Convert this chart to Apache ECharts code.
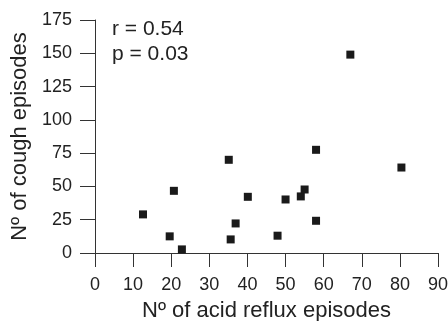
<!DOCTYPE html>
<html>
<head>
<meta charset="utf-8">
<script src="https://cdn.jsdelivr.net/npm/echarts@6/dist/echarts.min.js"></script>
<style>
  html, body { margin: 0; padding: 0; background: #fff; }
  #chart { width: 448px; height: 321px; }
</style>
</head>
<body>
<div id="chart"></div>
<script>
// acid reflux episodes (x) vs cough episodes (y), one pair per patient
const refluxEpisodes = [12.6, 19.6, 20.7, 22.8, 35.1, 35.6, 36.9, 40.1, 47.9, 50.0, 54.0, 55.0, 58.0, 58.0, 67.0, 80.4];
const coughEpisodes  = [29, 12.5, 46.7, 2.7, 70, 10.2, 22.2, 42.2, 13, 40.2, 42.5, 47.7, 77.5, 24.2, 149, 64.2];
const xTicks = { min: 0, max: 90, interval: 10 };
const yTicks = { min: 0, max: 175, interval: 25 };
const stats = ['r = 0.54', 'p = 0.03'];

const points = refluxEpisodes.map((x, i) => [x, coughEpisodes[i]]);

const chart = echarts.init(document.getElementById('chart'));
const font = 'Liberation Sans, Arial, sans-serif';
const ink = '#222';
const axisLine = { show: true, lineStyle: { color: '#333', width: 1 } };

chart.setOption({
  animation: false,
  textStyle: { fontFamily: font, color: ink },
  grid: { left: 95, right: 10, top: 20, bottom: 68, containLabel: false, outerBoundsMode: 'none' },
  xAxis: {
    type: 'value',
    min: xTicks.min, max: xTicks.max, interval: xTicks.interval,
    name: 'Nº of acid reflux episodes',
    nameLocation: 'middle',
    nameGap: 47,
    nameTextStyle: { fontSize: 22, color: ink, fontFamily: font },
    axisLine: axisLine,
    axisTick: { show: true, length: 14, lineStyle: { color: '#333' } },
    axisLabel: { fontSize: 18, color: ink, margin: 23, fontFamily: font },
    splitLine: { show: false }
  },
  yAxis: {
    type: 'value',
    min: yTicks.min, max: yTicks.max, interval: yTicks.interval,
    name: 'Nº of cough episodes',
    nameLocation: 'middle',
    nameGap: 63,
    nameTextStyle: { fontSize: 22, color: ink, fontFamily: font },
    axisLine: axisLine,
    axisTick: { show: true, length: 15, lineStyle: { color: '#333' } },
    axisLabel: { fontSize: 18, color: ink, margin: 23, fontFamily: font },
    splitLine: { show: false }
  },
  graphic: stats.map((t, i) => ({
    type: 'text',
    left: 112,
    top: 19 + i * 25,
    style: { text: t, fontSize: 21, fill: ink, fontFamily: font }
  })),
  series: [{
    type: 'scatter',
    data: points,
    symbol: 'rect',
    symbolSize: 8,
    itemStyle: { color: '#1a1a1a', opacity: 1 }
  }]
});
</script>
</body>
</html>
